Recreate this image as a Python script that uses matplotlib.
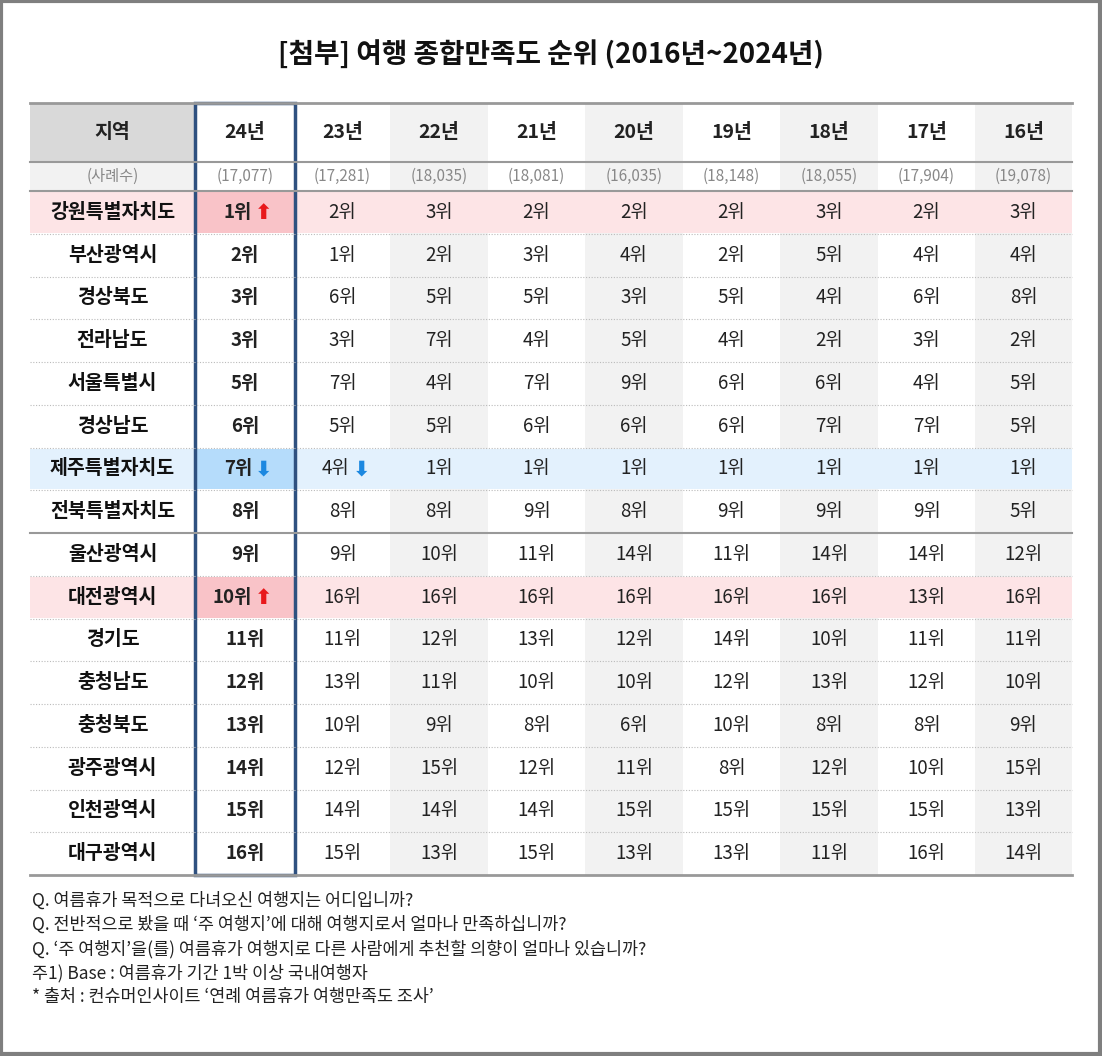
import matplotlib
matplotlib.use("Agg")
import matplotlib.pyplot as plt
from matplotlib.patches import Rectangle

plt.rcParams['font.family'] = ['Noto Sans CJK KR', 'DejaVu Sans']

title = "[첨부] 여행 종합만족도 순위 (2016년~2024년)"
years = ["24년", "23년", "22년", "21년", "20년", "19년", "18년", "17년", "16년"]
samples = ["(17,077)", "(17,281)", "(18,035)", "(18,081)", "(16,035)", "(18,148)", "(18,055)", "(17,904)", "(19,078)"]
regions = ["강원특별자치도", "부산광역시", "경상북도", "전라남도", "서울특별시", "경상남도", "제주특별자치도",
           "전북특별자치도", "울산광역시", "대전광역시", "경기도", "충청남도", "충청북도", "광주광역시",
           "인천광역시", "대구광역시"]
r24 = [1, 2, 3, 3, 5, 6, 7, 8, 9, 10, 11, 12, 13, 14, 15, 16]
r23 = [2, 1, 6, 3, 7, 5, 4, 8, 9, 16, 11, 13, 10, 12, 14, 15]
r22 = [3, 2, 5, 7, 4, 5, 1, 8, 10, 16, 12, 11, 9, 15, 14, 13]
r21 = [2, 3, 5, 4, 7, 6, 1, 9, 11, 16, 13, 10, 8, 12, 14, 15]
r20 = [2, 4, 3, 5, 9, 6, 1, 8, 14, 16, 12, 10, 6, 11, 15, 13]
r19 = [2, 2, 5, 4, 6, 6, 1, 9, 11, 16, 14, 12, 10, 8, 15, 13]
r18 = [3, 5, 4, 2, 6, 7, 1, 9, 14, 16, 10, 13, 8, 12, 15, 11]
r17 = [2, 4, 6, 3, 4, 7, 1, 9, 14, 13, 11, 12, 8, 10, 15, 16]
r16 = [3, 4, 8, 2, 5, 5, 1, 5, 12, 16, 11, 10, 9, 15, 13, 14]
ranks = [r24, r23, r22, r21, r20, r19, r18, r17, r16]
notes = ["Q. 여름휴가 목적으로 다녀오신 여행지는 어디입니까?",
         "Q. 전반적으로 봤을 때 ‘주 여행지’에 대해 여행지로서 얼마나 만족하십니까?",
         "Q. ‘주 여행지’을(를) 여름휴가 여행지로 다른 사람에게 추천할 의향이 얼마나 있습니까?",
         "주1) Base : 여름휴가 기간 1박 이상 국내여행자",
         "* 출처 : 컨슈머인사이트 ‘연례 여름휴가 여행만족도 조사’"]
pink_rows = [0, 9]
blue_rows = [6]
up_cells = [(0, 0), (9, 0)]
down_cells = [(6, 0), (6, 1)]

W, H = 1102, 1056
fig = plt.figure(figsize=(W/100, H/100), dpi=100)
ax = fig.add_axes([0, 0, 1, 1])
ax.set_xlim(0, W); ax.set_ylim(H, 0); ax.axis('off')
ax.add_patch(Rectangle((1, 1), W-3, H-3, fill=False, ec='#7f7f7f', lw=3))

ax.text(W/2, 55, title, ha='center', va='center', fontsize=20, fontweight='bold', color='#111')

xs = [30, 195, 295, 390, 488, 585, 683, 780, 878, 975, 1072]
hy0, hy1 = 103, 162
sy1 = 191
rh = (875 - sy1) / 16
def ry(i): return sy1 + i * rh

for j in range(9):
    if j >= 2 and j % 2 == 0:
        ax.add_patch(Rectangle((xs[j+1], hy0), xs[j+2]-xs[j+1], 875-hy0, color='#f2f2f2', lw=0))
ax.add_patch(Rectangle((xs[0], hy0), xs[1]-xs[0], hy1-hy0, color='#d9d9d9', lw=0))
ax.add_patch(Rectangle((xs[0], hy1), xs[1]-xs[0], sy1-hy1, color='#f2f2f2', lw=0))
for i in pink_rows:
    ax.add_patch(Rectangle((xs[0], ry(i)+1), xs[-1]-xs[0], rh-2, color='#fde4e6', lw=0))
    ax.add_patch(Rectangle((xs[1], ry(i)+1), xs[2]-xs[1], rh-2, color='#f9c3c8', lw=0))
for i in blue_rows:
    ax.add_patch(Rectangle((xs[0], ry(i)+1), xs[-1]-xs[0], rh-2, color='#e3f1fd', lw=0))
    ax.add_patch(Rectangle((xs[1], ry(i)+1), xs[2]-xs[1], rh-2, color='#b5dcfb', lw=0))

ax.plot([xs[0], xs[-1]], [hy0, hy0], color='#999', lw=2)
ax.plot([xs[0], xs[-1]], [hy1, hy1], color='#999', lw=1.5)
ax.plot([xs[0], xs[-1]], [sy1, sy1], color='#999', lw=1.5)
ax.plot([xs[0], xs[-1]], [875, 875], color='#999', lw=2)
for i in range(1, 16):
    if i == 8:
        ax.plot([xs[0], xs[-1]], [ry(i), ry(i)], color='#999', lw=1.5)
    else:
        ax.plot([xs[0], xs[-1]], [ry(i), ry(i)], color='#bbb', lw=0.8, ls=(0, (1, 1.5)))

ax.text((xs[0]+xs[1])/2, (hy0+hy1)/2, "지역", ha='center', va='center', fontsize=14, fontweight='bold', color='#222')
ax.text((xs[0]+xs[1])/2, (hy1+sy1)/2, "(사례수)", ha='center', va='center', fontsize=11, color='#888')
for j, y in enumerate(years):
    cx = (xs[j+1]+xs[j+2])/2
    ax.text(cx, (hy0+hy1)/2, y, ha='center', va='center', fontsize=14, fontweight='bold', color='#222')
    ax.text(cx, (hy1+sy1)/2, samples[j], ha='center', va='center', fontsize=11, color='#888')

for i, reg in enumerate(regions):
    cy = ry(i) + rh/2
    ax.text((xs[0]+xs[1])/2, cy, reg, ha='center', va='center', fontsize=14, fontweight='bold', color='#111')
    for j in range(9):
        cx = (xs[j+1]+xs[j+2])/2
        s = f"{ranks[j][i]}위"
        arrow = None
        if (i, j) in up_cells: arrow = ('⬆', '#e8191c')
        if (i, j) in down_cells: arrow = ('⬇', '#1c88e0')
        wt = 'bold' if j == 0 else 'normal'
        if arrow:
            ax.text(cx+7, cy, s, ha='right', va='center', fontsize=13.5, fontweight=wt, color='#222')
            ax.text(cx+10, cy+1, arrow[0], ha='left', va='center', fontsize=15,
                    color=arrow[1], family=['DejaVu Sans'], fontweight='bold')
        else:
            ax.text(cx, cy, s, ha='center', va='center', fontsize=13.5, fontweight=wt, color='#222')

ax.add_patch(Rectangle((xs[1], hy0), xs[2]-xs[1], 875-hy0, fill=False, ec='#2f5180', lw=2.5))

for k, n in enumerate(notes):
    ax.text(32, 901 + k*24, n, ha='left', va='center', fontsize=12.5, color='#222')

fig.savefig("out.png", dpi=100)
